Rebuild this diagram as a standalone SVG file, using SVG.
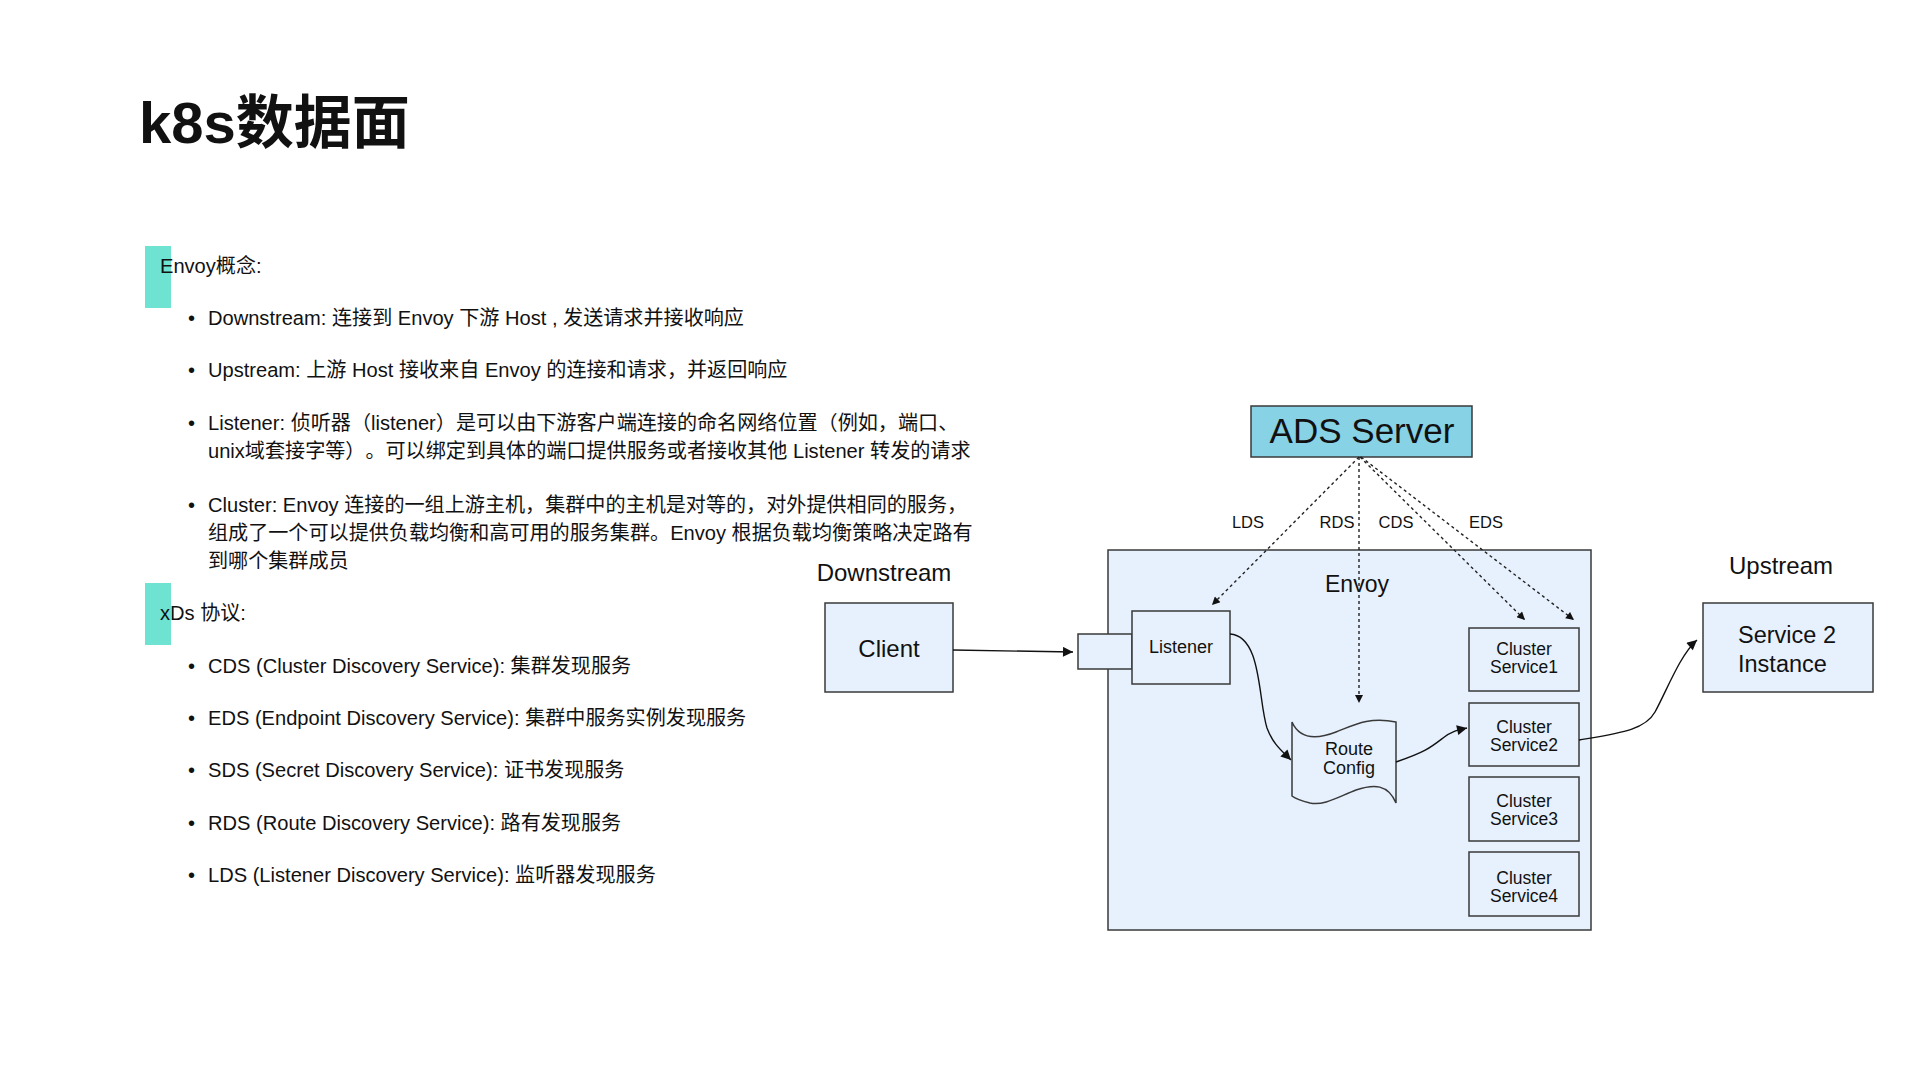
<svg xmlns="http://www.w3.org/2000/svg" width="1920" height="1080" viewBox="0 0 1920 1080">
<style>
.t{font-family:"Liberation Sans","Noto Sans CJK SC",sans-serif;fill:#111;text-spacing-trim:space-all}
.body{font-size:20.1px}
.d{font-size:18px;text-anchor:middle}
.lbl{font-size:24px;text-anchor:middle}
.xds{font-size:16.5px;text-anchor:middle}
.box{fill:#e7f1fd;stroke:#3a3a3a;stroke-width:1.5}
.bar{fill:#6ee3d1}
.dash{fill:none;stroke:#222;stroke-width:1.4;stroke-dasharray:3 3}
.solid{fill:none;stroke:#111;stroke-width:1.4}
</style>
<defs>
<marker id="arr" viewBox="0 0 10 10" refX="10" refY="5" markerWidth="13" markerHeight="10" orient="auto" markerUnits="userSpaceOnUse"><path d="M0,0 L10,5 L0,10 z" fill="#111"/></marker>
<marker id="arrs" viewBox="0 0 10 10" refX="10" refY="5" markerWidth="10" markerHeight="8" orient="auto" markerUnits="userSpaceOnUse"><path d="M0,0 L10,5 L0,10 z" fill="#111"/></marker>
</defs>
<rect width="1920" height="1080" fill="#ffffff"/>

<g id="title">
<text class="t" x="139" y="143" font-size="58" font-weight="bold">k8s数据面</text>
</g>

<g id="envoy-concepts">
<rect class="bar" x="145" y="246" width="26" height="62"/>
<text class="t body" x="160" y="273">Envoy概念:</text>
<text class="t body" x="188" y="325">•</text>
<text class="t body" x="208" y="325">Downstream: 连接到 Envoy 下游 Host , 发送请求并接收响应</text>
<text class="t body" x="188" y="377">•</text>
<text class="t body" x="208" y="377">Upstream: 上游 Host 接收来自 Envoy 的连接和请求，并返回响应</text>
<text class="t body" x="188" y="430">•</text>
<text class="t body" x="208" y="430">Listener: 侦听器（listener）是可以由下游客户端连接的命名网络位置（例如，端口、</text>
<text class="t body" x="208" y="458">unix域套接字等）。可以绑定到具体的端口提供服务或者接收其他 Listener 转发的请求</text>
<text class="t body" x="188" y="512">•</text>
<text class="t body" x="208" y="512">Cluster: Envoy 连接的一组上游主机，集群中的主机是对等的，对外提供相同的服务，</text>
<text class="t body" x="208" y="540">组成了一个可以提供负载均衡和高可用的服务集群。Envoy 根据负载均衡策略决定路有</text>
<text class="t body" x="208" y="568">到哪个集群成员</text>
</g>

<g id="xds">
<rect class="bar" x="145" y="583" width="26" height="62"/>
<text class="t body" x="160" y="620">xDs 协议:</text>
<text class="t body" x="188" y="673">•</text>
<text class="t body" x="208" y="673">CDS (Cluster Discovery Service): 集群发现服务</text>
<text class="t body" x="188" y="725">•</text>
<text class="t body" x="208" y="725">EDS (Endpoint Discovery Service): 集群中服务实例发现服务</text>
<text class="t body" x="188" y="777">•</text>
<text class="t body" x="208" y="777">SDS (Secret Discovery Service): 证书发现服务</text>
<text class="t body" x="188" y="830">•</text>
<text class="t body" x="208" y="830">RDS (Route Discovery Service): 路有发现服务</text>
<text class="t body" x="188" y="882">•</text>
<text class="t body" x="208" y="882">LDS (Listener Discovery Service): 监听器发现服务</text>
</g>

<g id="downstream">
<text class="t lbl" x="884" y="581">Downstream</text>
</g>
<g id="client">
<rect class="box" x="825" y="603" width="128" height="89"/>
<text class="t lbl" x="889" y="657">Client</text>
</g>

<g id="ads-server">
<rect x="1251" y="406" width="221" height="51" fill="#88d2e6" stroke="#3a3a3a" stroke-width="1.5"/>
<text class="t" x="1362" y="443" font-size="35" text-anchor="middle">ADS Server</text>
</g>

<g id="envoy">
<rect class="box" x="1108" y="550" width="483" height="380"/>
<text class="t" x="1357" y="592" font-size="23" text-anchor="middle">Envoy</text>
</g>

<g id="port">
<rect class="box" x="1078" y="634" width="54" height="35"/>
</g>
<g id="listener">
<rect class="box" x="1132" y="611" width="98" height="73"/>
<text class="t d" x="1181" y="653">Listener</text>
</g>

<g id="route-config">
<path class="box" d="M1292,722 C1300,740 1318,739 1336,732 C1352,726 1368,716 1396,722 L1396,803 C1388,784 1374,784 1356,790 C1338,797 1324,806 1310,803 C1302,801 1296,799 1292,796 Z"/>
<text class="t d" x="1349" y="755">Route</text>
<text class="t d" x="1349" y="774">Config</text>
</g>

<g id="cluster1">
<rect class="box" x="1469" y="628" width="110" height="63"/>
<text class="t" x="1524" y="655" font-size="17.5" text-anchor="middle">Cluster</text>
<text class="t" x="1524" y="673" font-size="17.5" text-anchor="middle">Service1</text>
</g>
<g id="cluster2">
<rect class="box" x="1469" y="703" width="110" height="63"/>
<text class="t" x="1524" y="733" font-size="17.5" text-anchor="middle">Cluster</text>
<text class="t" x="1524" y="751" font-size="17.5" text-anchor="middle">Service2</text>
</g>
<g id="cluster3">
<rect class="box" x="1469" y="777" width="110" height="64"/>
<text class="t" x="1524" y="807" font-size="17.5" text-anchor="middle">Cluster</text>
<text class="t" x="1524" y="825" font-size="17.5" text-anchor="middle">Service3</text>
</g>
<g id="cluster4">
<rect class="box" x="1469" y="852" width="110" height="64"/>
<text class="t" x="1524" y="884" font-size="17.5" text-anchor="middle">Cluster</text>
<text class="t" x="1524" y="902" font-size="17.5" text-anchor="middle">Service4</text>
</g>

<g id="upstream">
<text class="t lbl" x="1781" y="574">Upstream</text>
</g>
<g id="service2-instance">
<rect class="box" x="1703" y="603" width="170" height="89"/>
<text class="t" x="1738" y="643" font-size="23.5">Service 2</text>
<text class="t" x="1738" y="672" font-size="23.5">Instance</text>
</g>

<g id="connectors">
<line class="solid" x1="953" y1="650" x2="1073" y2="652" marker-end="url(#arr)"/>
<path class="solid" d="M1230,634 C1262,636 1258,700 1267,728 C1273,744 1281,750 1291,760" marker-end="url(#arr)"/>
<path class="solid" d="M1396,762 C1425,752 1430,748 1443,738 C1452,731 1458,730 1467,728" marker-end="url(#arr)"/>
<path class="solid" d="M1579,740 C1620,733 1645,730 1655,712 C1667,690 1680,655 1697,640" marker-end="url(#arr)"/>
<line class="dash" x1="1359" y1="457" x2="1212" y2="605" marker-end="url(#arrs)"/>
<line class="dash" x1="1359" y1="457" x2="1359" y2="703" marker-end="url(#arrs)"/>
<line class="dash" x1="1360" y1="457" x2="1525" y2="620" marker-end="url(#arrs)"/>
<line class="dash" x1="1361" y1="457" x2="1574" y2="620" marker-end="url(#arrs)"/>
<text class="t xds" x="1248" y="528">LDS</text>
<text class="t xds" x="1337" y="528">RDS</text>
<text class="t xds" x="1396" y="528">CDS</text>
<text class="t xds" x="1486" y="528">EDS</text>
</g>
</svg>
